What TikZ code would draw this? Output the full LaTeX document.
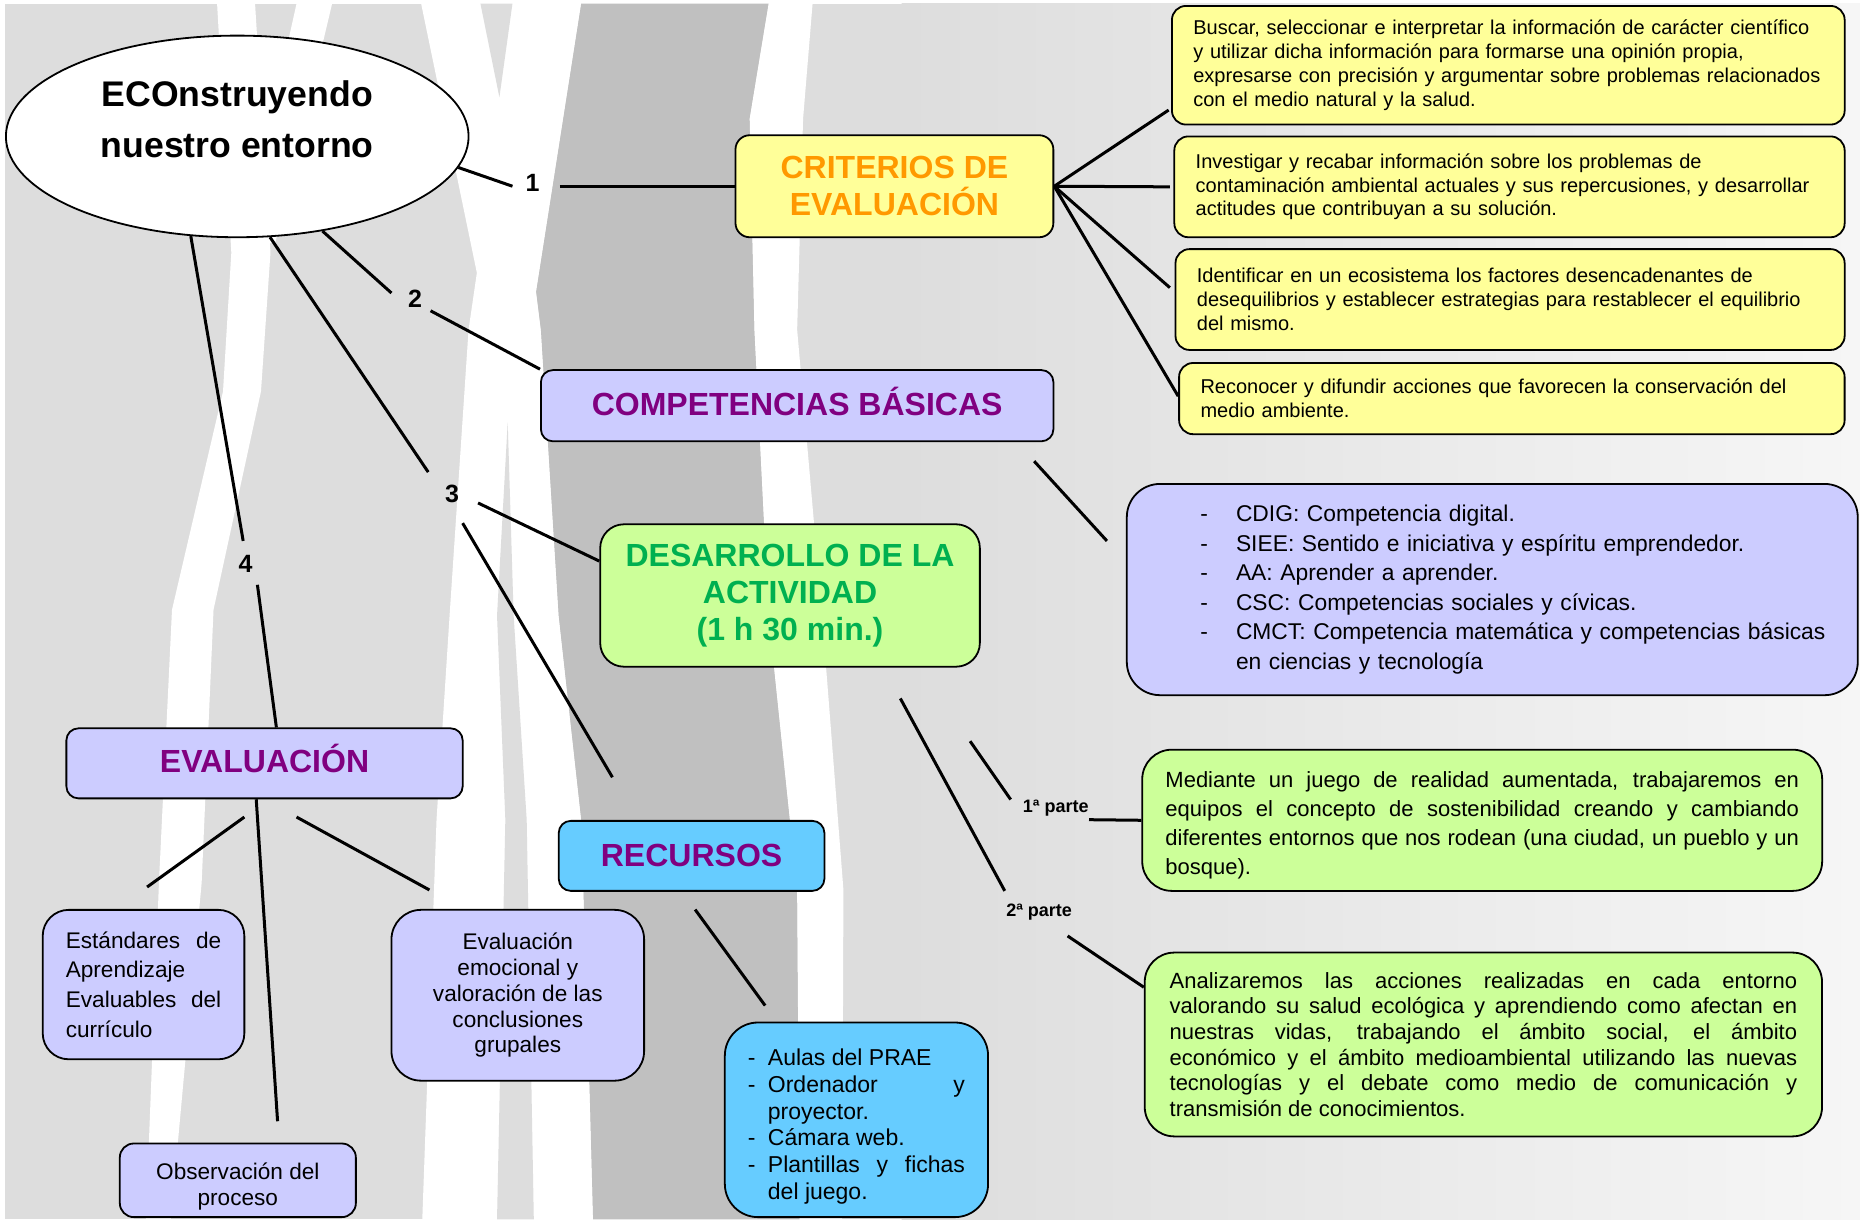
\documentclass[tikz,border=0pt]{standalone}
\usepackage{fontspec}
\setmainfont{Liberation Sans}
\usetikzlibrary{shapes.geometric,calc}
\definecolor{bgl}{HTML}{DDDDDD}
\definecolor{bgr}{HTML}{F6F6F6}
\definecolor{bgd}{HTML}{C0C0C0}
\definecolor{ylw}{HTML}{FFFF99}
\definecolor{org}{HTML}{FF9900}
\definecolor{lav}{HTML}{CCCCFF}
\definecolor{pur}{HTML}{800080}
\definecolor{lgr}{HTML}{CCFF99}
\definecolor{grt}{HTML}{00B050}
\definecolor{lbl}{HTML}{66CCFF}
\begin{document}
\begin{tikzpicture}[x=0.593pt,y=-0.593pt,
  box/.style={draw=black, line width=0.9pt, inner ysep=0pt},
  conn/.style={line width=1.5pt},
  ttl/.style={font=\fontsize{16}{18.5}\selectfont\bfseries, align=center},
  num/.style={font=\fontsize{12.5}{14}\selectfont\bfseries, inner sep=0pt},
  part/.style={font=\fontsize{9}{10}\selectfont\bfseries, inner sep=0pt},
  ybox/.style={box, fill=ylw, rounded corners=7pt, align=left, inner xsep=10.7pt, font=\fontsize{10}{11.9}\selectfont},
]
\useasboundingbox (0,0) rectangle (1568,1028);
% ---------- background ----------
\fill[white] (0,0) rectangle (1568,1028);
\fill[bgl] (4,3) rectangle (1568,1028);
\shade[left color=bgl, right color=bgr] (760,3) rectangle (1568,1028);
\fill[white] (183,3) -- (215,3) -- (228,213) -- (220,330) -- (180,514) -- (170,744) -- (144,1028) -- (123,1028) -- (134,744) -- (145,514) -- (188,330) -- (195,213) -- cycle;
\fill[white] (250,3) -- (280,3) -- (232,205) -- (205,205) -- cycle;
\fill[white] (355,3) -- (402,230) -- (395,278) -- (379,519) -- (368,691) -- (356,1028) -- (500,1028) -- (497,916) -- (490,691) -- (471,519) -- (456,278) -- (452,246) -- (490,3) -- cycle;
\fill[bgl] (405,3) -- (432,3) -- (421,82) -- cycle;
\fill[bgl] (428,356) -- (433,519) -- (444,691) -- (450,1028) -- (419,1028) -- (426,691) -- (419,519) -- cycle;
\fill[bgd] (490,3) -- (452,246) -- (456,278) -- (471,519) -- (490,691) -- (497,916) -- (500,1028) -- (674,1028) -- (672,750) -- (648,519) -- (636,278) -- (632,100) -- (648,3) -- cycle;
\fill[white] (648,3) -- (632,100) -- (636,278) -- (648,519) -- (672,750) -- (674,1028) -- (710,1028) -- (711,750) -- (693,519) -- (672,278) -- (677,100) -- (685,3) -- cycle;
% ---------- nodes ----------
\node[box, fill=white, ellipse, minimum width=231.3pt, minimum height=100.8pt, inner sep=0pt] (root) at (200,115) {};
\node[font=\fontsize{17.8}{25.5}\selectfont\bfseries, align=center, inner sep=0pt] (roottxt) at (200,100.5) {ECOnstruyendo\\nuestro entorno};

\node[box, fill=ylw, rounded corners=7.1pt, minimum width=158.9pt, minimum height=51pt, ttl, text=org] (crit) at (754,157) {CRITERIOS DE\\EVALUACIÓN};
\node[box, fill=lav, rounded corners=6pt, minimum width=256.2pt, minimum height=35.6pt, ttl, text=pur] (comp) at (672,342) {\raisebox{2pt}[\height][\depth]{COMPETENCIAS BÁSICAS}};
\node[box, fill=lgr, rounded corners=11.9pt, minimum width=189.8pt, minimum height=71.2pt, ttl, text=grt] (des) at (666,502) {DESARROLLO DE LA\\ACTIVIDAD\\(1 h 30 min.)};
\node[box, fill=lav, rounded corners=6pt, minimum width=198.1pt, minimum height=35pt, ttl, text=pur] (eval) at (223,643.5) {\raisebox{2.2pt}[\height][\depth]{EVALUACIÓN}};
\node[box, fill=lbl, rounded corners=6pt, minimum width=132.8pt, minimum height=35pt, ttl, text=pur] (rec) at (583,721.5) {RECURSOS};

\node[ybox, minimum width=336.2pt, minimum height=59.3pt, text width=314.9pt] (ca) at (1271.5,55) {Buscar, seleccionar e interpretar la información de carácter científico\\y utilizar dicha información para formarse una opinión propia,\\expresarse con precisión y argumentar sobre problemas relacionados\\con el medio natural y la salud.};
\node[ybox, minimum width=335pt, minimum height=50.4pt, text width=313.7pt] (cb) at (1272.5,157.5) {Investigar y recabar información sobre los problemas de\\contaminación ambiental actuales y sus repercusiones, y desarrollar\\actitudes que contribuyan a su solución.};
\node[ybox, minimum width=334.5pt, minimum height=50.4pt, text width=313.1pt] (cc) at (1273,252.5) {Identificar en un ecosistema los factores desencadenantes de\\desequilibrios y establecer estrategias para restablecer el equilibrio\\del mismo.};
\node[ybox, minimum width=332.7pt, minimum height=35.6pt, text width=311.3pt] (cd) at (1274.5,336) {Reconocer y difundir acciones que favorecen la conservación del\\medio ambiente.};

\node[box, fill=lav, rounded corners=16.6pt, minimum width=365.3pt, minimum height=105.6pt, text width=291.8pt, inner xsep=36.8pt, align=left, font=\fontsize{11.4}{14.8}\selectfont] (clist) at (1258,497) {\mbox{\makebox[17.8pt][l]{-}CDIG: Competencia digital.}\\\mbox{\makebox[17.8pt][l]{-}SIEE: Sentido e iniciativa y espíritu emprendedor.}\\\mbox{\makebox[17.8pt][l]{-}AA: Aprender a aprender.}\\\mbox{\makebox[17.8pt][l]{-}CSC: Competencias sociales y cívicas.}\\\mbox{\makebox[17.8pt][l]{-}CMCT: Competencia matemática y competencias básicas}\\\mbox{\hspace*{17.8pt}en ciencias y tecnología}};

\node[box, fill=lgr, rounded corners=14.8pt, minimum width=339.8pt, minimum height=70.6pt, text width=316.7pt, inner xsep=11.6pt, align=justify, font=\fontsize{11}{14.6}\selectfont] (g1) at (1249.5,691.5) {\rule{0pt}{13pt}Mediante un juego de realidad aumentada, trabajaremos en\linebreak equipos el concepto de sostenibilidad creando y cambiando\linebreak diferentes entornos que nos rodean (una ciudad, un pueblo y un\linebreak bosque).};
\node[box, fill=lgr, rounded corners=14.8pt, minimum width=338.6pt, minimum height=91.9pt, text width=313.7pt, inner xsep=12.45pt, align=justify, font=\fontsize{11}{12.8}\selectfont] (g2) at (1250.5,880.5) {Analizaremos las acciones realizadas en cada entorno\linebreak valorando su salud ecológica y aprendiendo como afectan en\linebreak nuestras vidas, trabajando el ámbito social, el ámbito\linebreak económico y el ámbito medioambiental utilizando las nuevas\linebreak tecnologías y el debate como medio de comunicación y\linebreak transmisión de conocimientos.};

\node[box, fill=lav, rounded corners=13pt, minimum width=100.8pt, minimum height=74.7pt, text width=77.7pt, inner xsep=11.55pt, align=justify, font=\fontsize{11.3}{14.8}\selectfont] (est) at (121,830) {Estándares de\linebreak Aprendizaje\linebreak Evaluables del\linebreak currículo};
\node[box, fill=lav, rounded corners=14.8pt, minimum width=126.3pt, minimum height=85.4pt, align=center, font=\fontsize{11.3}{12.9}\selectfont] (emo) at (436.5,839) {Evaluación\\emocional y\\valoración de las\\conclusiones\\grupales};
\node[box, fill=lav, rounded corners=7pt, minimum width=118pt, minimum height=36.8pt, align=center, font=\fontsize{11.3}{13}\selectfont] (obs) at (200.5,995) {\rule{0pt}{15pt}Observación del\\proceso};
\node[box, fill=lbl, rounded corners=16.6pt, minimum width=131.6pt, minimum height=97.3pt, text width=108.5pt, inner xsep=11.55pt, align=justify, font=\fontsize{11.5}{13.4}\selectfont] (rlist) at (722,944) {\hangindent=10pt\hangafter=1\noindent\makebox[10pt][l]{-}\rule{0pt}{15pt}Aulas del PRAE\par\hangindent=10pt\hangafter=1\noindent\makebox[10pt][l]{-}Ordenador y\linebreak proyector.\par\hangindent=10pt\hangafter=1\noindent\makebox[10pt][l]{-}Cámara web.\par\hangindent=10pt\hangafter=1\noindent\makebox[10pt][l]{-}Plantillas y fichas\linebreak del juego.\par};

\node[num] (l1) at (449,154) {1};
\node[num] (l2) at (350,252) {2};
\node[num] (l3) at (381,416) {3};
\node[num] (l4) at (207,475) {4};
\node[part] (p1) at (890,681) {1ª parte};
\node[part] (p2) at (876,769) {2ª parte};
% ---------- connectors ----------
\draw[conn] (root.-8) -- ($(l1)+(-17,3)$);
\draw[conn] ($(l1)+(23,3)$) -- (crit.west);
\draw[conn] (root.-48) -- ($(l2)+(-20,-5)$);
\draw[conn] ($(l2)+(13,10)$) -- (comp.north west);
\draw[conn] (root.-72) -- ($(l3)+(-20,-18)$);
\draw[conn] ($(l3)+(22,8)$) -- ($(des.west)+(0,-29)$);
\draw[conn] ($(l3)+(9,25)$) -- ($(rec.north west)+(46,-36)$);
\draw[conn] (root.-115) -- ($(l4)+(-2,-19)$);
\draw[conn] ($(l4)+(10,18)$) -- ($(eval.north)+(10,0)$);
\draw[conn] (crit.east) -- ($(ca.south west)+(-2,-13)$);
\draw[conn] (crit.east) -- ($(cb.west)+(-3,0)$);
\draw[conn] (crit.east) -- ($(cc.west)+(-4,-10)$);
\draw[conn] (crit.east) -- ($(cd.west)+(0,-2)$);
\draw[conn] ($(comp.south east)+(-17,16)$) -- ($(clist.west)+(-16,-41)$);
\draw[conn] ($(des.south east)+(-9,62)$) -- ($(p1)+(-38,-7)$);
\draw[conn] ($(p1.east)+(0,10)$) -- (g1.west);
\draw[conn] ($(des.south)+(93,26)$) -- ($(p2)+(-29,-18)$);
\draw[conn] ($(p2)+(24,20)$) -- ($(g2.north west)+(0,30)$);
\draw[conn] ($(eval.south)+(-17,15)$) -- ($(est.north)+(3,-18.5)$);
\draw[conn] ($(eval.south)+(-7,0)$) -- ($(obs.north)+(33.5,-18)$);
\draw[conn] ($(eval.south)+(27,15)$) -- ($(emo.north)+(-74.5,-16)$);
\draw[conn] ($(rec.south)+(3,15)$) -- ($(rlist.north)+(-77,-13.5)$);
\end{tikzpicture}
\end{document}
